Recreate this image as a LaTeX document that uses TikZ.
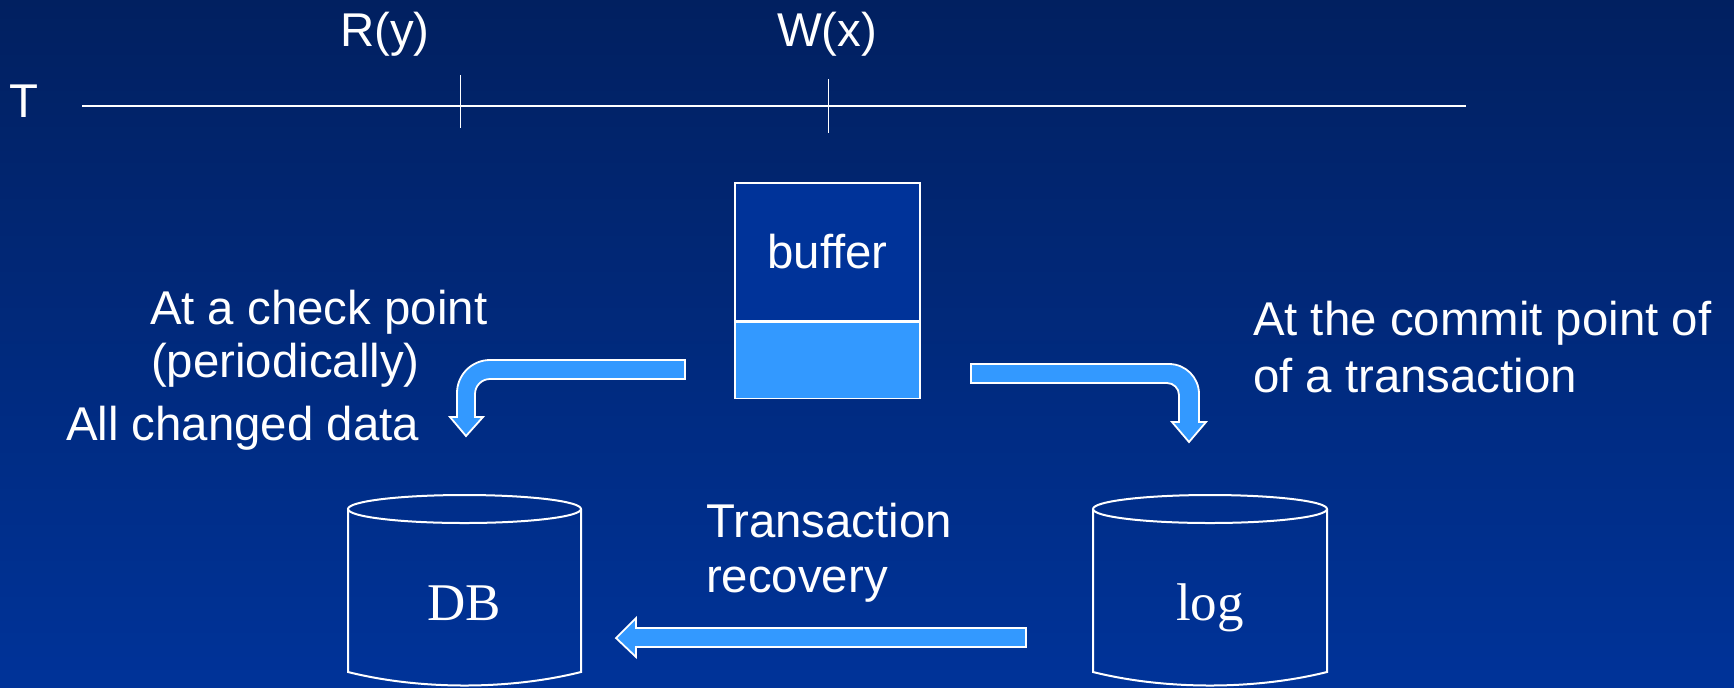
\documentclass[tikz,border=0pt]{standalone}
\usepackage{fontspec}
\setmainfont{Liberation Sans}
\newfontfamily\dbfont{Liberation Serif}

\definecolor{bgtop}{RGB}{1,32,96}
\definecolor{bgbot}{RGB}{0,51,153}
\definecolor{boxblue}{RGB}{0,51,153}
\definecolor{arrowblue}{RGB}{51,153,255}

\begin{document}
\begin{tikzpicture}[x=0.5pt, y=-0.5pt, font=\fontsize{23.7}{28}\selectfont, line width=1pt,
		txt/.style={anchor=base west, text=white, inner sep=0pt},
		blockarrow/.style={fill=arrowblue, draw=white, line width=0.9pt, line join=miter},
		dbtxt/.style={anchor=base, text=white, inner sep=0pt, font=\fontsize{26.5}{31}\selectfont\dbfont}]
		\shade[top color=bgtop, bottom color=bgbot] (0,0) rectangle (1734,687);
		\useasboundingbox (0,0) rectangle (1734,687);
		
		% time line of T
		\node[txt](t) at (9,117) {T};
		\coordinate (ts) at (82,106);
		\coordinate (te) at (1466,106);
		\draw[white] (ts) to (te);
		\draw[white, line width=0.5pt] (460,75) to (460,128);
		\draw[white, line width=0.5pt] (828,79) to (828,133);
		\node[txt, anchor=base](ry) at (385,46) {R(y)};
		\node[txt, anchor=base](wx) at (827,46) {W(x)};
		
		% buffer
		\node[draw=white, line width=0.75pt, fill=boxblue, minimum width=92.5pt, minimum height=69pt, text=white](buf) at (827.5,252) {buffer};
		\node[draw=white, line width=0.75pt, fill=arrowblue, minimum width=92.5pt, minimum height=38pt, anchor=north](bufd) at (buf.south) {};
		
		% check point arrow
		\filldraw[blockarrow] (685,360) -- (490,360) arc[start angle=270, end angle=180, radius=33]
			-- (457,417) -- (450,417) -- (466,436) -- (483,417) -- (475,417) -- (475,394)
			arc[start angle=180, end angle=270, radius=15] -- (685,379) -- cycle;
		\node[txt](cp1) at (149,324) {At a check point};
		\node[txt](cp2) at (150,377) {(periodically)};
		\node[txt](cp3) at (65,440) {All changed data};
		
		% commit arrow
		\filldraw[blockarrow] (971,364) -- (1169,364) arc[start angle=270, end angle=360, radius=30]
			-- (1199,422) -- (1206,422) -- (1189,442) -- (1172,422) -- (1179,422) -- (1179,395)
			arc[start angle=0, end angle=-90, radius=12] -- (971,383) -- cycle;
		\node[txt](cm1) at (1252,335) {At the commit point of};
		\node[txt](cm2) at (1252,392) {of a transaction};
		
		% DB
		\draw[white] (348,509) -- (348,672) .. controls (420,690) and (509,690) .. (581,672) -- (581,509);
		\draw[white] (464.5,509) ellipse [x radius=116.5, y radius=14];
		\node[dbtxt](db) at (464.5,620) {DB};
		
		% log
		\draw[white] (1093,509) -- (1093,672) .. controls (1165,690) and (1255,690) .. (1327,672) -- (1327,509);
		\draw[white] (1210,509) ellipse [x radius=117, y radius=14];
		\node[dbtxt](log) at (1210,620) {log};
		
		% recovery arrow
		\filldraw[blockarrow] (1026,628) -- (636,628) -- (636,618) -- (616,638) -- (636,657)
			-- (636,647) -- (1026,647) -- cycle;
		\node[txt](rc1) at (705,537) {Transaction};
		\node[txt](rc2) at (705,592) {recovery};
	\end{tikzpicture}
\end{document}
